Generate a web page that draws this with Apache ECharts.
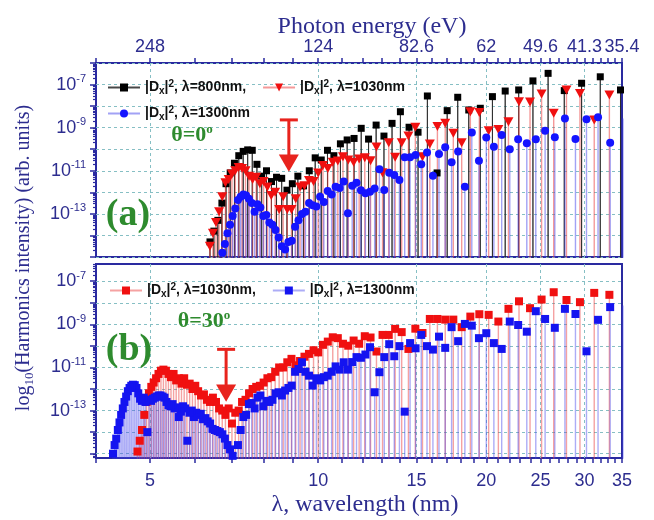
<!DOCTYPE html>
<html>
<head>
<meta charset="utf-8">
<script src="https://cdn.jsdelivr.net/npm/echarts@6/dist/echarts.min.js"></script>
<style>
  html, body { margin: 0; padding: 0; background: #fff; }
  #chart { width: 654px; height: 520px; }
</style>
</head>
<body>
<div id="chart"></div>
<script>
// Harmonic spectra |Dx|^2, stored as log10(intensity) for consecutive odd orders,
// starting at the lowest order listed in *_FIRST.

// Panel (a), theta = 0
const A800_FIRST = 23;
const A800 = [-7.25, -6.64, -6.94, -7.28, -6.48, -6.83, -7.25, -7.30, -7.56, -8.10,
  -8.18, -7.59, -8.21, -11.1, -7.53, -9.21, -8.98, -8.26, -8.80, -9.39,
  -8.88, -9.53, -9.03, -9.5, -9.57, -9.75, -10.3, -10.05, -10.5, -10.4,
  -11.0, -11.7, -11.25, -11.6, -11.9, -11.35, -11.3, -11.5, -11.0, -11.25,
  -10.7, -10.05, -10.03, -10.1, -10.3, -10.65, -11.1, -11.6, -12.5, -13.3,
  -13.8, -14.3];

const A1030_FIRST = 31;
const A1030 = [-7.48, -8.64, -7.41, -7.25, -8.33, -7.44, -7.81, -7.8, -8.72, -9.08,
  -9.14, -8.3, -8.26, -9.70, -9.26, -8.80, -8.95, -9.76, -10.35, -8.98,
  -9.39, -9.70, -10.37, -9.70, -11.09, -9.9, -10.53, -10.4, -10.45, -10.6,
  -10.5, -10.35, -10.55, -10.6, -10.9, -10.75, -11.1, -11.5, -11.45, -11.7,
  -11.75, -12.3, -12.8, -12.8, -12.2, -12.8, -12.0, -12.15, -11.75, -11.5,
  -11.6, -11.3, -11.4, -11.25, -11.0, -10.9, -10.85, -11.0, -11.15, -11.4,
  -11.55, -12.2, -12.9, -13.4, -13.9, -14.5];

const A1300_FIRST = 37;
const A1300 = [-8.57, -9.70, -8.52, -8.61, -9.53, -8.58, -9.45, -9.14, -9.54, -9.72,
  -9.54, -10.00, -9.34, -9.88, -9.46, -10.53, -9.23, -11.74, -10.11, -10.61,
  -9.91, -10.22, -11.23, -10.15, -10.70, -10.27, -10.37, -10.37, -11.43, -11.20,
  -11.09, -11.89, -10.93, -11.82, -11.97, -12.04, -11.9, -11.55, -11.7, -12.97,
  -11.5, -11.8, -11.74, -12.1, -11.94, -12.45, -12.2, -12.66, -12.6, -12.5,
  -12.9, -13.0, -13.3, -13.6, -14.25, -14.3, -14.65, -14.5, -14.1, -13.75,
  -13.5, -13.4, -13.05, -13.1, -12.7, -12.55, -12.9, -12.5, -12.3, -12.15,
  -12.1, -12.2, -12.35, -12.75, -13.1, -13.5, -13.9, -14.4, -14.8];

// Panel (b), theta = 30 deg
const B1030_FIRST = 31;
const B1030 = [-7.63, -7.54, -7.97, -7.87, -7.51, -7.85, -8.25, -7.93, -8.28, -8.87,
  -8.56, -8.53, -8.64, -9.13, -8.78, -8.78, -8.75, -8.75, -9.40, -9.2,
  -10.14, -9.36, -9.21, -9.49, -9.49, -10.26, -9.61, -9.55, -9.9, -9.75,
  -9.99, -9.9, -9.64, -9.6, -9.8, -9.95, -10.3, -10.2, -10.37, -10.5,
  -10.7, -10.9, -10.6, -10.76, -11.0, -11.0, -11.2, -11.45, -11.5, -11.7,
  -11.85, -11.9, -12.0, -12.2, -12.5, -12.6, -13.0, -13.1, -13.6, -12.9,
  -13.2, -13.0, -12.9, -12.6, -12.4, -12.6, -12.5, -12.25, -12.3, -12.1,
  -11.85, -12.0, -11.75, -11.8, -11.5, -11.75, -11.5, -11.6, -11.3, -11.45,
  -11.3, -11.15, -11.1, -11.15, -11.3, -11.5, -11.7, -11.9, -12.2, -12.6,
  -13.2, -13.9, -14.4, -14.9];

const B1300_FIRST = 37;
const B1300 = [-8.13, -8.20, -8.79, -10.25, -8.52, -8.28, -9.16, -8.75, -8.39, -9.34,
  -9.03, -8.87, -10.14, -9.87, -9.41, -9.64, -9.06, -8.98, -9.78, -9.13,
  -10.09, -9.57, -10.17, -10.01, -9.49, -10.11, -9.87, -13.05, -10.01, -10.48,
  -9.92, -10.52, -11.22, -12.15, -10.06, -10.4, -10.55, -10.52, -10.75, -11.1,
  -10.76, -11.1, -10.95, -11.2, -11.38, -11.45, -11.6, -11.5, -11.84, -11.38,
  -11.2, -10.76, -11.07, -11.2, -11.84, -11.95, -12.07, -12.3, -12.15, -12.2,
  -12.5, -12.6, -12.55, -12.8, -12.3, -12.4, -12.9, -12.65, -12.7, -13.2,
  -13.3, -13.9, -14.6, -15.4, -15.1, -14.8, -14.6, -14.3, -14.1, -14.0,
  -13.95, -13.9, -13.85, -13.6, -13.5, -13.35, -13.4, -13.15, -13.2, -13.1,
  -13.3, -13.0, -13.1, -14.4, -12.9, -12.8, -13.05, -13.3, -12.85, -12.9,
  -12.7, -12.8, -12.75, -12.6, -12.4, -12.35, -12.3, -12.3, -12.35, -12.4,
  -12.45, -12.55, -12.5, -14.0, -12.6, -12.4, -12.55, -12.45, -12.2, -11.95,
  -11.82, -11.8, -11.85, -11.95, -12.1, -12.35, -12.6, -12.9, -13.2, -13.55,
  -13.9, -14.3, -14.6, -15.0];

// Axis ticks and labels
const NM_TICKS = [4, 5, 6, 7, 8, 9, 10, 11, 12, 13, 14, 15, 16, 17, 18, 19, 20,
  21, 22, 23, 24, 25, 26, 27, 28, 29, 30, 31, 32, 33, 34, 35];
const NM_LABELS = [5, 10, 15, 20, 25, 30, 35];
const EV_LABELS = ['248', '124', '82.6', '62', '49.6', '41.3', '35.4'];
const NM_GRID = [5, 10, 15, 20, 25, 30];
const Y_LABELS = [-13, -11, -9, -7];
const MINOR_MANTISSA = [2, 3, 4, 5, 6, 7, 8, 9];
const RANGE_A = [-15, -6];
const RANGE_B = [-15.2, -6.2];

// Red arrows marking the spectral minima (wavelength nm, log10 top, log10 tip)
const ARROW_A = [8.86, -8.64, -11.04];
const ARROW_B = [6.84, -10.16, -12.59];

const NAVY = '#2d2d8f';
const AXIS = '#2a2aa0';
const GREEN = '#2e8b2e';
const RED = '#e8231d';
const SANS = 'Liberation Sans, Arial, sans-serif';
const SERIF = 'Liberation Serif, Times New Roman, serif';

const STEM_BASE = -40; // stems rise from below the visible range

function stems(driverNm, firstOrder, values) {
  const out = [];
  values.forEach((v, i) => {
    const lam = driverNm / (firstOrder + 2 * i);
    out.push({ value: [lam, STEM_BASE], symbol: 'none' });
    out.push({ value: [lam, v] });
    out.push({ value: [lam, STEM_BASE], symbol: 'none' });
  });
  return out;
}

function majorTicks(r) {
  const t = [];
  for (let n = Math.ceil(r[0] - 1e-9); n <= Math.floor(r[1] + 1e-9); n++) t.push(n);
  return t;
}
function minorTicks(r) {
  const t = [];
  for (let n = Math.floor(r[0]) - 1; n < r[1]; n++) {
    MINOR_MANTISSA.forEach(k => {
      const v = n + Math.log10(k);
      if (v > r[0] && v < r[1]) t.push(v);
    });
  }
  return t;
}

const gridLine = { show: true, lineStyle: { color: '#86bfc4', type: [3, 3], width: 1 } };

function yAxes(gridIndex, range) {
  return [{
    gridIndex, type: 'value', min: range[0], max: range[1], position: 'left',
    axisLine: { show: false },
    axisTick: { show: true, inside: false, length: 6, customValues: majorTicks(range),
      lineStyle: { color: AXIS, width: 1.5 } },
    axisLabel: {
      customValues: Y_LABELS, margin: 10, color: NAVY, fontFamily: SANS,
      formatter: v => '{b|10}{s|' + Math.round(v) + '}',
      rich: {
        b: { fontSize: 18, lineHeight: 22, color: NAVY, fontFamily: SANS },
        s: { fontSize: 11, lineHeight: 11, verticalAlign: 'top', color: NAVY, fontFamily: SANS }
      }
    },
    splitLine: gridLine
  }, {
    gridIndex, type: 'value', min: range[0], max: range[1], position: 'left',
    axisLine: { show: false },
    axisTick: { show: true, inside: false, length: 3, customValues: minorTicks(range),
      lineStyle: { color: AXIS, width: 1.2 } },
    axisLabel: { show: false },
    splitLine: { show: false }
  }];
}

function dataXAxis(gridIndex) {
  return {
    gridIndex, type: 'log', logBase: 10, min: 4, max: 35, position: 'bottom',
    axisLine: { show: false },
    axisTick: { show: false, customValues: NM_GRID },
    axisLabel: { show: false },
    splitLine: gridLine
  };
}

function tickXAxis(gridIndex, position, labelFn, margin) {
  return {
    gridIndex, type: 'log', logBase: 10, min: 4, max: 35, position,
    axisLine: { show: false },
    axisTick: { show: true, inside: false, length: 5, customValues: NM_TICKS,
      lineStyle: { color: AXIS, width: 1.5 } },
    axisLabel: {
      customValues: NM_LABELS, color: NAVY, fontFamily: SANS, fontSize: 18, margin,
      formatter: labelFn
    },
    splitLine: { show: false }
  };
}

const legendRich = {
  sub: { fontSize: 10, lineHeight: 10, verticalAlign: 'bottom', fontWeight: 'bold', color: '#111', fontFamily: SANS },
  sup: { fontSize: 10, lineHeight: 10, verticalAlign: 'top', fontWeight: 'bold', color: '#111', fontFamily: SANS }
};
const LEGEND_TEXT = {
  a800: '|D{sub|x}|{sup|2}, λ=800nm,',
  a1030: '|D{sub|x}|{sup|2}, λ=1030nm',
  a1300: '|D{sub|x}|{sup|2}, λ=1300nm',
  b1030: '|D{sub|x}|{sup|2}, λ=1030nm,',
  b1300: '|D{sub|x}|{sup|2}, λ=1300nm'
};
function legend(names, left, top) {
  return {
    data: names, left, top, orient: 'horizontal', selectedMode: false,
    itemWidth: 32, itemHeight: 10, itemGap: 16,
    formatter: n => LEGEND_TEXT[n],
    textStyle: { fontFamily: SANS, fontWeight: 'bold', fontSize: 14, color: '#111',
      lineHeight: 17, rich: legendRich }
  };
}

const DOWN_TRIANGLE = 'path://M0,0L10,0L5,9Z';

function stemSeries(name, xi, yi, driver, first, values, symbol, size, fill, line, width) {
  return {
    name, type: 'line', xAxisIndex: xi, yAxisIndex: yi,
    data: stems(driver, first, values),
    symbol, symbolSize: size, showSymbol: true, showAllSymbol: true,
    clip: true, animation: false,
    itemStyle: { color: fill },
    lineStyle: { color: line, width },
    emphasis: { disabled: true }
  };
}

const chart = echarts.init(document.getElementById('chart'));

chart.setOption({
  animation: false,
  textStyle: { fontFamily: SANS },
  grid: [
    { left: 96, right: 32, top: 63, height: 194, show: true, borderColor: AXIS, borderWidth: 2 },
    { left: 96, right: 32, top: 264, height: 194, show: true, borderColor: AXIS, borderWidth: 2 }
  ],
  xAxis: [
    dataXAxis(0),
    tickXAxis(0, 'top', v => EV_LABELS[NM_LABELS.indexOf(Math.round(v))], 7),
    dataXAxis(1),
    tickXAxis(1, 'bottom', v => String(Math.round(v)), 14)
  ],
  yAxis: [...yAxes(0, RANGE_A), ...yAxes(1, RANGE_B)],
  legend: [
    legend(['a800', 'a1030'], 102, 74),
    legend(['a1300'], 102, 100),
    legend(['b1030', 'b1300'], 104, 277)
  ],
  series: [
    stemSeries('a800', 0, 0, 800, A800_FIRST, A800, 'rect', 7, '#000000', 'rgba(40,40,40,0.85)', 1),
    stemSeries('a1030', 0, 0, 1030, A1030_FIRST, A1030, DOWN_TRIANGLE, [10, 9], '#f01010', 'rgba(235,70,70,0.55)', 1.4),
    stemSeries('a1300', 0, 0, 1300, A1300_FIRST, A1300, 'circle', 8, '#1414ff', 'rgba(70,70,235,0.5)', 1.4),
    stemSeries('b1030', 2, 2, 1030, B1030_FIRST, B1030, 'rect', 8, '#f01010', 'rgba(235,70,70,0.5)', 1.4),
    stemSeries('b1300', 2, 2, 1300, B1300_FIRST, B1300, 'rect', 8, '#1414f0', 'rgba(70,70,235,0.45)', 1.4)
  ]
});

function arrow(gridIndex, a) {
  const yi = gridIndex === 0 ? 0 : 2;
  const xi = gridIndex === 0 ? 0 : 2;
  const top = chart.convertToPixel({ xAxisIndex: xi, yAxisIndex: yi }, [a[0], a[1]]);
  const tip = chart.convertToPixel({ xAxisIndex: xi, yAxisIndex: yi }, [a[0], a[2]]);
  const x = top[0], y0 = top[1], y1 = tip[1];
  const headLen = (y1 - y0) * 0.33;
  return {
    type: 'group', z: 50,
    children: [
      { type: 'line', shape: { x1: x - 9, y1: y0, x2: x + 9, y2: y0 }, style: { stroke: RED, lineWidth: 3 } },
      { type: 'line', shape: { x1: x, y1: y0, x2: x, y2: y1 - headLen + 2 }, style: { stroke: RED, lineWidth: 3 } },
      { type: 'polygon', shape: { points: [[x - 10, y1 - headLen], [x + 10, y1 - headLen], [x, y1]] }, style: { fill: RED } }
    ]
  };
}

function label(text, x, y, size, rich) {
  return {
    type: 'text', x, y, z: 60,
    style: { text, align: 'center', verticalAlign: 'middle', fill: GREEN,
      font: 'bold ' + size + 'px ' + SERIF, rich }
  };
}

const thetaRich = {
  t: { fontSize: 22, fontWeight: 'bold', fontFamily: SERIF, fill: GREEN, color: GREEN, lineHeight: 24 },
  o: { fontSize: 13, fontWeight: 'bold', fontFamily: SERIF, fill: GREEN, color: GREEN, lineHeight: 13, verticalAlign: 'top' }
};

chart.setOption({
  graphic: [
    { type: 'text', x: 372, y: 27, style: { text: 'Photon energy (eV)', align: 'center', verticalAlign: 'middle',
      fill: NAVY, font: '24px ' + SERIF } },
    { type: 'text', x: 365, y: 505, style: { text: 'λ, wavelength (nm)', align: 'center', verticalAlign: 'middle',
      fill: NAVY, font: '24px ' + SERIF } },
    { type: 'text', x: 24, y: 258, rotation: Math.PI / 2,
      style: { text: '{m|log}{d|10}{m|(Harmonics intensity) (arb. units)}', align: 'center', verticalAlign: 'middle',
        rich: {
          m: { fontSize: 20, fontFamily: SERIF, color: NAVY, fill: NAVY, lineHeight: 24 },
          d: { fontSize: 13, fontFamily: SERIF, color: NAVY, fill: NAVY, lineHeight: 13, verticalAlign: 'bottom' }
        } } },
    label('{t|θ=0}{o|o}', 192, 135, 22, thetaRich),
    label('{t|θ=30}{o|o}', 204, 321, 22, thetaRich),
    label('(a)', 128, 215, 38),
    label('(b)', 129, 350, 38),
    arrow(0, ARROW_A),
    arrow(1, ARROW_B)
  ]
});
</script>
</body>
</html>
